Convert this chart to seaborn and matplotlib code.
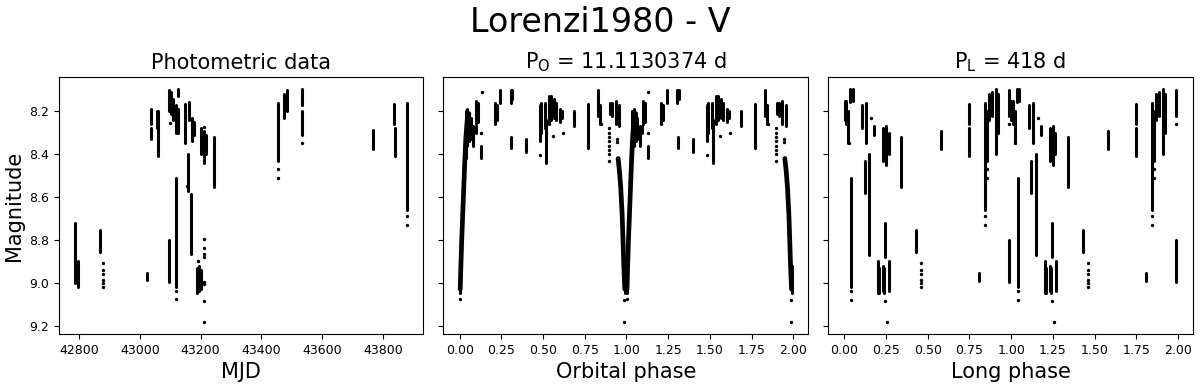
import numpy as np
import pandas as pd
import matplotlib
matplotlib.use("Agg")
import matplotlib.pyplot as plt
import seaborn as sns

# ---- photometric data (MJD), nightly streaks: x, faint/bright limits ----
mjd_seg_x = [42788, 42797, 42869, 43022, 43038, 43038, 43061, 43058, 43095, 43102,
             43110, 43118, 43126, 43124, 43096, 43120, 43150, 43162, 43170, 43178,
             43158, 43168, 43187, 43194, 43201, 43202, 43210, 43218, 43245, 43455,
             43475, 43485, 43532, 43532, 43766, 43835, 43838, 43878]
mjd_seg_lo = [8.72, 8.90, 8.755, 8.955, 8.19, 8.28, 8.20, 8.20, 8.10, 8.11,
              8.14, 8.17, 8.095, 8.19, 8.80, 8.51, 8.165, 8.155, 8.23, 8.25,
              8.40, 8.585, 8.93, 8.92, 8.94, 8.28, 8.29, 8.31, 8.32, 8.16,
              8.12, 8.10, 8.095, 8.20, 8.285, 8.165, 8.28, 8.16]
mjd_seg_hi = [9.00, 9.02, 8.856, 8.988, 8.26, 8.33, 8.41, 8.28, 8.20, 8.21,
              8.24, 8.30, 8.13, 8.30, 8.996, 9.02, 8.35, 8.24, 8.34, 8.31,
              8.57, 8.864, 9.05, 9.04, 9.03, 8.40, 8.44, 8.40, 8.553, 8.43,
              8.23, 8.20, 8.17, 8.31, 8.374, 8.26, 8.41, 8.66]
mjd_dot_x = [42879, 42879, 42879, 42879, 42879, 42879, 43100, 43120, 43120, 43154,
             43190, 43212, 43212, 43212, 43212, 43212, 43212, 43212, 43212, 43210,
             43455, 43455, 43532, 43878, 43878]
mjd_dot_mag = [8.907, 8.941, 8.957, 8.985, 8.999, 9.019, 8.254, 9.038, 9.077, 8.55,
               8.90, 8.794, 8.837, 8.864, 8.882, 8.996, 9.007, 9.084, 9.185, 8.273,
               8.47, 8.512, 8.35, 8.69, 8.73]

# ---- orbital phase (one cycle, shown twice) ----
orb_seg_x = [0.003, 0.035, 0.045, 0.055, 0.065, 0.08, 0.10, 0.112, 0.095, 0.127,
             0.21, 0.222, 0.242, 0.305, 0.315, 0.31, 0.40, 0.48, 0.49, 0.52,
             0.51, 0.535, 0.55, 0.565, 0.58, 0.60, 0.615, 0.685, 0.77, 0.83,
             0.842, 0.90, 0.915, 0.935, 0.955, 0.99]
orb_seg_lo = [8.92, 8.20, 8.19, 8.21, 8.23, 8.27, 8.15, 8.16, 8.27, 8.36,
              8.16, 8.17, 8.10, 8.10, 8.10, 8.32, 8.33, 8.17, 8.16, 8.24,
              8.16, 8.13, 8.13, 8.14, 8.16, 8.19, 8.20, 8.20, 8.165, 8.10,
              8.17, 8.16, 8.16, 8.15, 8.17, 8.92]
orb_seg_hi = [9.05, 8.42, 8.36, 8.34, 8.33, 8.36, 8.26, 8.25, 8.30, 8.42,
              8.26, 8.24, 8.16, 8.16, 8.14, 8.37, 8.39, 8.34, 8.30, 8.44,
              8.28, 8.26, 8.24, 8.23, 8.24, 8.25, 8.23, 8.27, 8.37, 8.22,
              8.26, 8.21, 8.22, 8.26, 8.27, 9.05]
orb_dot_x = [0.002, 0.131, 0.13, 0.561, 0.62, 0.48, 0.85, 0.895, 0.895, 0.895,
             0.895, 0.895, 0.895, 0.895, 0.895, 0.945, 0.945, 0.984, 0.984]
orb_dot_mag = [9.077, 8.11, 8.30, 8.315, 8.30, 8.405, 8.26, 8.28, 8.30, 8.32,
               8.34, 8.36, 8.38, 8.40, 8.43, 8.33, 8.345, 9.08, 9.185]
egress_phase = [0.003, 0.007, 0.012, 0.018, 0.024, 0.030, 0.037, 0.045, 0.055]
egress_mag = [9.03, 8.92, 8.80, 8.68, 8.56, 8.44, 8.32, 8.24, 8.21]
ingress_phase = [0.950, 0.958, 0.966, 0.974, 0.980, 0.985, 0.990]
ingress_mag = [8.42, 8.48, 8.56, 8.68, 8.82, 8.94, 9.03]

# ---- long phase (one cycle, shown twice) ----
long_seg_x = [0.002, 0.012, 0.022, 0.035, 0.05, 0.042, 0.108, 0.132, 0.122, 0.15,
              0.178, 0.20, 0.21, 0.23, 0.24, 0.27, 0.23, 0.25, 0.265, 0.245,
              0.342, 0.432, 0.58, 0.75, 0.746, 0.806, 0.846, 0.855, 0.87, 0.885,
              0.91, 0.92, 0.988, 0.99]
long_seg_lo = [8.15, 8.15, 8.20, 8.095, 8.095, 8.51, 8.17, 8.16, 8.43, 8.40,
               8.27, 8.90, 8.93, 8.92, 8.93, 8.90, 8.28, 8.27, 8.30, 8.72,
               8.32, 8.755, 8.29, 8.165, 8.28, 8.955, 8.16, 8.20, 8.12, 8.11,
               8.095, 8.12, 8.10, 8.80]
long_seg_hi = [8.24, 8.26, 8.35, 8.155, 8.15, 9.02, 8.28, 8.35, 8.58, 8.87,
               8.31, 9.05, 9.05, 9.04, 9.05, 9.04, 8.43, 8.45, 8.40, 8.88,
               8.553, 8.856, 8.374, 8.26, 8.41, 8.99, 8.66, 8.43, 8.24, 8.22,
               8.40, 8.30, 8.22, 8.996]
long_dot_x = [0.025, 0.042, 0.042, 0.162, 0.245, 0.256, 0.46, 0.46, 0.46, 0.46,
              0.46, 0.46, 0.846, 0.846, 0.855, 0.855, 0.986]
long_dot_mag = [8.35, 9.04, 9.08, 8.23, 9.084, 9.185, 8.907, 8.941, 8.957, 8.985,
                8.999, 9.019, 8.69, 8.73, 8.47, 8.51, 8.26]


def seg_frame(x, lo, hi, shifts=(0.0,)):
    parts = []
    for k, sh in enumerate(shifts):
        n = len(x)
        parts.append(pd.DataFrame({
            "x": np.repeat(np.asarray(x, float) + sh, 2),
            "mag": np.column_stack([lo, hi]).ravel(),
            "seg": np.repeat(np.arange(n) + k * 1000, 2),
        }))
    return pd.concat(parts, ignore_index=True)


def line_frame(lines, shifts=(0.0,)):
    parts = []
    for k, sh in enumerate(shifts):
        for j, (xs, ys) in enumerate(lines):
            parts.append(pd.DataFrame({"x": np.asarray(xs, float) + sh, "mag": ys,
                                       "seg": 5000 + k * 100 + j}))
    return pd.concat(parts, ignore_index=True)


def dot_frame(x, mag, shifts=(0.0,)):
    return pd.concat([pd.DataFrame({"x": np.asarray(x, float) + sh, "mag": mag})
                      for sh in shifts], ignore_index=True)


sns.set_style("ticks", rc={"axes.edgecolor": "black", "xtick.color": "black",
                           "ytick.color": "black", "text.color": "black",
                           "axes.labelcolor": "black", "lines.solid_capstyle": "round"})
plt.rcParams["font.family"] = ["DejaVu Sans"]

fig, axes = plt.subplots(1, 3, figsize=(12, 3.84), dpi=100, sharey=True)
fig.subplots_adjust(left=0.049, right=0.994, top=0.799, bottom=0.130, wspace=0.055)

two = (0.0, 1.0)
panels = [
    (seg_frame(mjd_seg_x, mjd_seg_lo, mjd_seg_hi), None,
     dot_frame(mjd_dot_x, mjd_dot_mag), "Photometric data", "MJD"),
    (seg_frame(orb_seg_x, orb_seg_lo, orb_seg_hi, two),
     line_frame([(egress_phase, egress_mag), (ingress_phase, ingress_mag)], two),
     dot_frame(orb_dot_x, orb_dot_mag, two),
     r"P$_\mathrm{O}$ = 11.1130374 d", "Orbital phase"),
    (seg_frame(long_seg_x, long_seg_lo, long_seg_hi, two), None,
     dot_frame(long_dot_x, long_dot_mag, two),
     r"P$_\mathrm{L}$ = 418 d", "Long phase"),
]

for ax, (segs, curves, dots, title, xlabel) in zip(axes, panels):
    sns.lineplot(data=segs, x="x", y="mag", units="seg", estimator=None, sort=False,
                 color="black", lw=2.2, ax=ax, legend=False)
    if curves is not None:
        sns.lineplot(data=curves, x="x", y="mag", units="seg", estimator=None,
                     sort=False, color="black", lw=3.4, ax=ax, legend=False)
    sns.scatterplot(data=dots, x="x", y="mag", color="black", s=6, linewidth=0,
                    ax=ax, legend=False)
    ax.set_title(title, fontsize=15)
    ax.set_xlabel(xlabel, fontsize=15)
    ax.set_ylabel("")
    ax.tick_params(labelsize=9)

axes[0].set_ylabel("Magnitude", fontsize=15)
axes[0].set_yticks([8.2, 8.4, 8.6, 8.8, 9.0, 9.2])
axes[0].invert_yaxis()
fig.suptitle("Lorenzi1980 - V", fontsize=24, y=0.985)

fig.savefig("out.png", dpi=100)
